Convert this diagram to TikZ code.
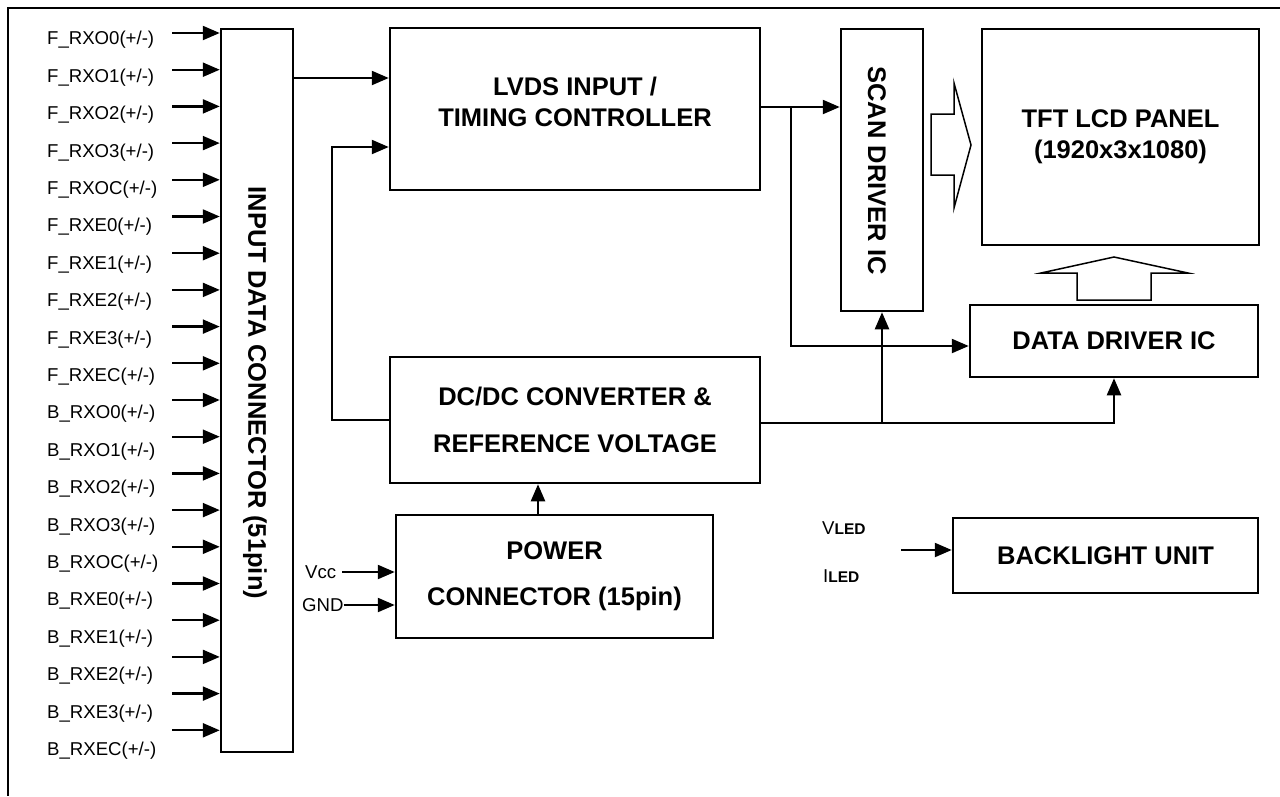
\documentclass[tikz,border=0pt]{standalone}
\usepackage{fontspec}
\setmainfont{Liberation Sans}
\usetikzlibrary{arrows.meta,calc}
\begin{document}
\begin{tikzpicture}[x=1pt,y=-1pt,
  box/.style={draw, line width=2.5pt, rectangle, inner sep=0pt, align=center},
  btxt/.style={font=\fontsize{25.5}{31}\selectfont\bfseries, align=center, inner sep=0pt},
  lab/.style={font=\fontsize{18.6}{22}\selectfont, inner sep=0pt, anchor=west},
  arr/.style={line width=2.3pt, -{Triangle[length=17pt,width=14pt]}},
  wire/.style={line width=2.3pt},
  hollow/.style={line width=1.5pt, line join=miter}]
\useasboundingbox (0,0) rectangle (1280,796);
% outer frame
\draw[line width=2pt] (1280,8) -- (8,8) -- (8,796);

% boxes
\node[box, minimum width=72pt, minimum height=723pt] (inconn) at (257,390.5) {};
\node[btxt, rotate=-90] (inconntxt) at (255,393) {INPUT DATA CONNECTOR (51pin)};

\node[box, minimum width=370pt, minimum height=162pt] (lvds) at (575,109) {};
\node[btxt] (lvdstxt) at (575,101.5) {LVDS INPUT /\\TIMING CONTROLLER};

\node[box, btxt, minimum width=370pt, minimum height=126pt] (dcdc) at (575,420)
  {DC/DC CONVERTER \&\\[16pt]REFERENCE VOLTAGE};

\node[box, btxt, minimum width=317pt, minimum height=123pt] (power) at (554.5,576.5)
  {POWER\\[15pt]CONNECTOR (15pin)};

\node[box, minimum width=82pt, minimum height=282pt] (scan) at (882,170) {};
\node[btxt, rotate=-90] (scantxt) at (877,170.5) {SCAN DRIVER IC};

\node[box, btxt, minimum width=277pt, minimum height=216pt] (tft) at (1120.5,137)
  {TFT LCD PANEL\\(1920x3x1080)};

\node[box, btxt, minimum width=288pt, minimum height=72pt] (ddrv) at (1114,341) {DATA DRIVER IC};

\node[box, btxt, minimum width=305pt, minimum height=75pt] (blu) at (1105.5,555.5) {BACKLIGHT UNIT};

% input signal labels and arrows
\foreach \n [count=\i from 0] in {F\_RXO0,F\_RXO1,F\_RXO2,F\_RXO3,F\_RXOC,F\_RXE0,F\_RXE1,F\_RXE2,F\_RXE3,F\_RXEC,B\_RXO0,B\_RXO1,B\_RXO2,B\_RXO3,B\_RXOC,B\_RXE0,B\_RXE1,B\_RXE2,B\_RXE3,B\_RXEC} {
  \node[lab] (l\i) at (47, 40+37.4*\i) {\n(+/-)};
}
\foreach \i in {0,...,19} {
  \coordinate (s\i) at (172, 33+36.7*\i);
  \draw[arr] (s\i) -- (s\i -| inconn.west);
}

% connectors
\draw[arr] (inconn.east |- 0,78) -- (lvds.west |- 0,78);
\coordinate (fb) at (332,147);
\draw[arr] (dcdc.west) -| (fb) -- (lvds.west |- fb);

\draw[arr] (lvds.east |- 0,107) -- (scan.west |- 0,107);
\coordinate (br1) at (791,107);
\draw[arr] (br1) |- (ddrv.west |- 0,346);

\draw[arr] (dcdc.east |- 0,423) -| (ddrv.south);
\coordinate (br2) at (scan.south |- 0,423);
\draw[arr] (br2) -- (scan.south);

\draw[arr] (power.north -| 538,0) -- (dcdc.south -| 538,0);

% power inputs
\node[lab] (vcc) at (305,572) {Vcc};
\node[lab] (gnd) at (302,605) {GND};
\draw[arr] ([xshift=6pt]vcc.east) -- (power.west |- vcc.east);
\draw[arr] (gnd.east) -- (power.west |- gnd.east);

% backlight inputs
\node[lab] (vled) at (822,528) {V{\fontsize{15.5}{18}\selectfont\bfseries LED}};
\node[lab] (iled) at (823,576) {I{\fontsize{15.5}{18}\selectfont\bfseries LED}};
\coordinate (ledin) at (901,550);
\draw[arr] (ledin) -- (blu.west |- ledin);

% hollow arrows
\draw[hollow] (931,114) -- (954,114) -- (954,83) -- (971,145) -- (954,208) -- (954,175) -- (931,175) -- cycle;
\draw[hollow] (1077,300) -- (1077,273) -- (1041,273) -- (1114,257) -- (1188,273) -- (1151,273) -- (1151,300) -- cycle;
\end{tikzpicture}
\end{document}
